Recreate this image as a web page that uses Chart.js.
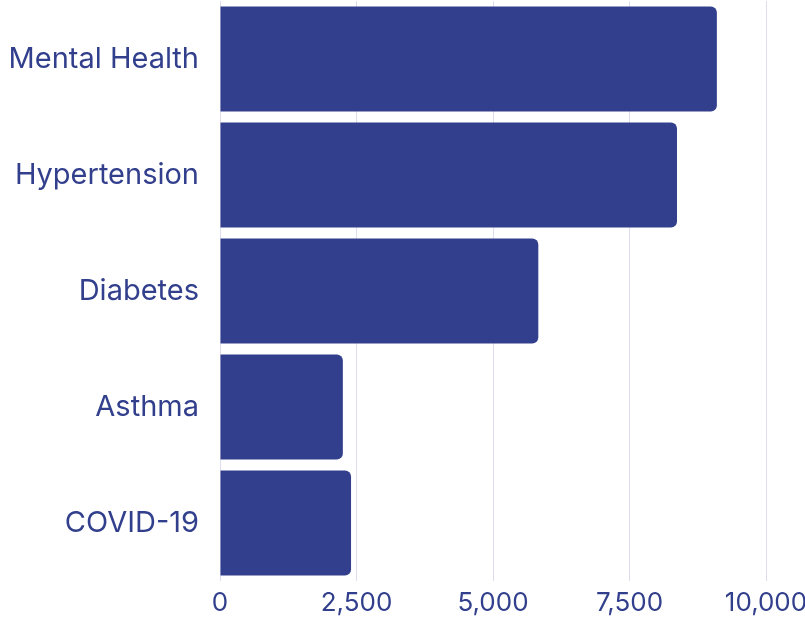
<!DOCTYPE html>
<html>
<head>
<meta charset="utf-8">
<script src="https://cdn.jsdelivr.net/npm/chart.js@4"></script>
<style>
  html, body { margin: 0; padding: 0; background: #ffffff; }
  #wrap { width: 805px; height: 623px; position: relative; }
</style>
</head>
<body>
<div id="wrap"><canvas id="grafico"></canvas></div>
<script>
// Datos
const categorias = ['Mental Health', 'Hypertension', 'Diabetes', 'Asthma', 'COVID-19'];
const valores = [9100, 8370, 5830, 2250, 2400];
const marcasX = [0, 2500, 5000, 7500, 10000];

const azul = '#323f8c';

const ctx = document.getElementById('grafico').getContext('2d');
new Chart(ctx, {
  type: 'bar',
  data: {
    labels: categorias,
    datasets: [{
      data: valores,
      backgroundColor: azul,
      borderRadius: 6,
      borderSkipped: 'start',
      categoryPercentage: 1,
      barPercentage: 0.905
    }]
  },
  options: {
    indexAxis: 'y',
    responsive: true,
    maintainAspectRatio: false,
    animation: false,
    layout: { padding: { top: 1, left: 0, right: 0, bottom: 2 } },
    plugins: { legend: { display: false }, tooltip: { enabled: false } },
    scales: {
      x: {
        min: marcasX[0],
        max: marcasX[marcasX.length - 1],
        afterBuildTicks: function(axis) {
          axis.ticks = marcasX.map(v => ({ value: v }));
        },
        // el hueco de la derecha lo da la mitad de la etiqueta "10,000"
        afterFit: function(scale) {
          scale.paddingLeft = 0;
          scale.paddingRight = 39;
          scale.height = 40;
        },
        grid: { color: '#dcdeee', lineWidth: 1, drawTicks: false },
        border: { display: false },
        ticks: {
          color: azul,
          font: { family: 'Inter', size: 26, weight: '400' },
          padding: 7,
          callback: v => v.toLocaleString('en-US')
        }
      },
      y: {
        // ancho fijo del eje para que las barras empiecen en x=220
        afterFit: function(scale) {
          scale.paddingTop = 0;
          scale.paddingBottom = 0;
          scale.width = 220;
        },
        grid: { display: false, drawTicks: false },
        border: { display: false },
        ticks: { color: azul, font: { family: 'Inter', size: 29, weight: '400' }, padding: 21 }
      }
    }
  }
});
</script>
</body>
</html>
